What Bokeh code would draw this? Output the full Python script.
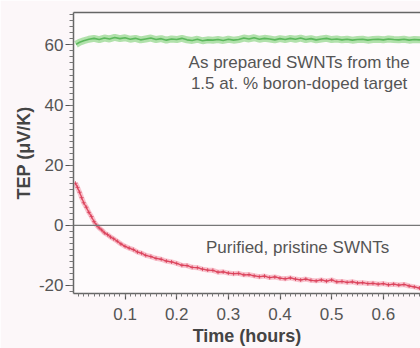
from bokeh.plotting import figure
from bokeh.models import Range1d, FixedTicker, SingleIntervalTicker, LinearAxis, Span, Label
from bokeh.embed import file_html
from bokeh.resources import INLINE

# ---- data ----
green_t = [0.005, 0.012, 0.02, 0.03, 0.04, 0.05, 0.06, 0.07, 0.08, 0.09, 0.10, 0.11, 0.12, 0.13,
           0.14, 0.15, 0.16, 0.17, 0.18, 0.19, 0.20, 0.21, 0.22, 0.23, 0.24, 0.25, 0.26, 0.27,
           0.28, 0.29, 0.30, 0.31, 0.32, 0.33, 0.34, 0.35, 0.36, 0.37, 0.38, 0.39, 0.40, 0.41,
           0.42, 0.43, 0.44, 0.45, 0.46, 0.47, 0.48, 0.49, 0.50, 0.51, 0.52, 0.53, 0.54, 0.55,
           0.56, 0.57, 0.58, 0.59, 0.60, 0.61, 0.62, 0.63, 0.64, 0.65, 0.66, 0.67, 0.68]
green_tep = [60.2, 60.9, 61.4, 61.9, 62.2, 61.8, 62.3, 62.0, 62.5, 62.1, 62.4, 61.9, 62.2, 61.7,
             62.0, 62.3, 61.8, 62.1, 61.6, 62.0, 61.8, 62.2, 61.7, 61.5, 61.9, 61.4, 61.7, 61.6,
             61.8, 61.5, 61.9, 61.6, 61.8, 62.3, 62.0, 62.4, 61.9, 62.2, 62.0, 61.7, 62.1, 61.8,
             62.2, 61.9, 62.3, 61.8, 62.1, 61.7, 62.0, 62.2, 61.8, 62.0, 61.7, 61.9, 61.6, 61.8,
             61.9, 61.6, 61.8, 61.9, 61.7, 62.0, 61.8, 61.7, 61.9, 61.6, 61.8, 61.7, 61.8]

red_t = [0.004, 0.008, 0.012, 0.016, 0.020, 0.025, 0.030, 0.035, 0.040, 0.045, 0.050, 0.055,
         0.060, 0.066, 0.072, 0.078, 0.085, 0.092, 0.100, 0.108, 0.116, 0.124, 0.132, 0.140,
         0.150, 0.160, 0.170, 0.180, 0.190, 0.200, 0.210, 0.220, 0.230, 0.240, 0.250, 0.260,
         0.270, 0.280, 0.290, 0.300, 0.310, 0.320, 0.330, 0.340, 0.350, 0.360, 0.370, 0.380,
         0.390, 0.400, 0.410, 0.420, 0.430, 0.440, 0.450, 0.460, 0.470, 0.480, 0.490, 0.500,
         0.510, 0.520, 0.530, 0.540, 0.550, 0.560, 0.570, 0.580, 0.590, 0.600, 0.610, 0.620,
         0.630, 0.640, 0.650, 0.660, 0.670, 0.680]
red_tep = [14.0, 12.6, 11.0, 9.2, 7.5, 6.0, 4.3, 2.9, 1.2, 0.0, -0.9, -1.6,
           -2.5, -3.1, -3.9, -4.5, -5.3, -6.2, -7.0, -7.6, -8.1, -8.9, -9.3, -10.0,
           -10.4, -11.0, -11.3, -11.9, -12.2, -12.7, -13.3, -13.4, -14.0, -14.1, -14.6, -14.9,
           -15.0, -15.6, -15.5, -15.9, -16.1, -16.0, -16.5, -16.4, -16.8, -17.1, -16.9, -17.4,
           -17.2, -17.6, -17.8, -17.5, -17.9, -18.2, -17.9, -18.3, -18.5, -18.2, -18.6, -18.2,
           -18.8, -18.7, -19.0, -18.8, -19.2, -19.1, -19.4, -19.3, -19.6, -19.4, -19.8, -19.6,
           -19.9, -19.7, -20.2, -20.5, -20.9, -21.1]

x_tick_step = 0.1
y_tick_step = 20

FONT = "Liberation Sans"
BG = "#fcf7f9"

p = figure(width=420, height=348, output_backend="svg", toolbar_location=None,
           x_range=Range1d(0.0002, 0.672), y_range=Range1d(-22.7, 70.8),
           min_border_left=73, min_border_right=0, min_border_top=12, min_border_bottom=55,
           background_fill_color="#fefbfc", border_fill_color=BG)
p.outline_line_color = None
p.grid.visible = False

# axes styling
xa = p.xaxis[0]
xa.ticker = SingleIntervalTicker(interval=x_tick_step, num_minor_ticks=10)
xa.axis_label = "Time (hours)"
ya = p.yaxis[0]
ya.ticker = SingleIntervalTicker(interval=y_tick_step, num_minor_ticks=10)
ya.axis_label = "TEP (\u03bcV/K)"
ya.major_label_overrides = {-20: "-20"}

for ax in (xa, ya):
    ax.axis_line_color = "#666666"
    ax.axis_line_width = 1.5
    ax.major_tick_line_color = "#555555"
    ax.major_tick_line_width = 1.2
    ax.minor_tick_line_color = "#777777"
    ax.minor_tick_line_width = 1
    ax.major_tick_in = 0
    ax.minor_tick_in = 0
    ax.major_label_text_font = FONT
    ax.major_label_text_font_size = "17px"
    ax.major_label_text_color = "#555555"
    ax.axis_label_text_font = FONT
    ax.axis_label_text_font_size = "18px"
    ax.axis_label_text_font_style = "bold"
    ax.axis_label_text_color = "#444444"

xa.major_tick_out = 6
xa.minor_tick_out = 3
xa.major_label_standoff = 8
xa.axis_label_standoff = 3
ya.major_tick_out = 8
ya.minor_tick_out = 4
ya.major_label_standoff = 2
ya.axis_label_standoff = 2

# top border
top = LinearAxis(ticker=FixedTicker(ticks=[]), major_label_text_font_size="0px",
                 axis_line_color="#666666", axis_line_width=1.5,
                 major_tick_line_color=None, minor_tick_line_color=None)
p.add_layout(top, "above")

# zero line
p.add_layout(Span(location=0, dimension="width", line_color="#777777", line_width=1.2))

# green series
p.line(green_t, green_tep, line_color="#a8dea2", line_width=7, line_alpha=0.9)
p.line(green_t, green_tep, line_color="#5cb85c", line_width=1.6)

# red series
p.line(red_t, red_tep, line_color="#f6b4c0", line_width=5, line_alpha=0.8)
p.line(red_t, red_tep, line_color="#e04a60", line_width=1.3)
p.scatter(red_t, red_tep, marker="cross", size=4, line_color="#d8405a", line_width=1, line_alpha=0.8)

# annotations
for txt, xx, yy in [("As prepared SWNTs from the", 0.437, 54.0),
                    ("1.5 at. % boron-doped target", 0.437, 47.3),
                    ("Purified, pristine SWNTs", 0.434, -7.3)]:
    p.add_layout(Label(x=xx, y=yy, text=txt, text_align="center", text_baseline="middle",
                       text_font=FONT, text_font_size="17px", text_color="#555555"))

open("out.html", "w").write(file_html(p, INLINE))
